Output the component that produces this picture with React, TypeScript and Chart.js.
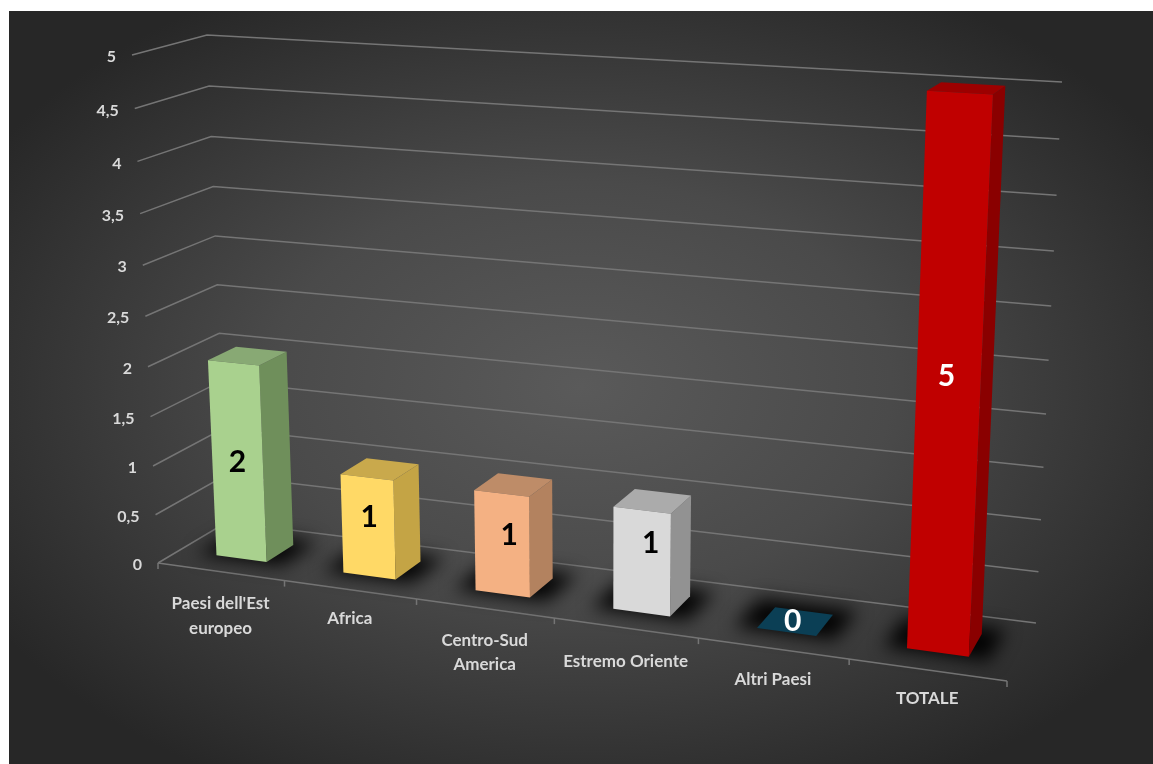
import React, { useEffect, useRef } from "react";
import { Chart, registerables } from "chart.js";

Chart.register(...registerables);

const categories: string[][] = [
  ["Paesi dell'Est", "europeo"],
  ["Africa"],
  ["Centro-Sud", "America"],
  ["Estremo Oriente"],
  ["Altri Paesi"],
  ["TOTALE"],
];
const values = [2, 1, 1, 1, 0, 5];
const valueTexts = ["2", "1", "1", "1", "0", "5"];
const frontColors = ["#A9D18E", "#FFD966", "#F4B183", "#D9D9D9", "#0B3F55", "#C00000"];
const sideColors = ["#6F8F5B", "#C4A445", "#B3825F", "#929292", "#0B3F55", "#8A0000"];
const topColors = ["#88A974", "#C9A94C", "#BE8C68", "#ABABAB", "#0B3F55", "#9C0000"];
const valueLabelColors = ["#000000", "#000000", "#000000", "#000000", "#FFFFFF", "#FFFFFF"];

const W = 1153;
const H = 764;
type P = [number, number];

// Perspective frame of the 3D box (front and back value planes)
const frontPlane: P[] = [[158, 563], [1007, 681], [1035, 104], [132, 55]];
const backPlane: P[] = [[227, 522], [1036, 623], [1062, 82], [207, 35]];
const depthNear = 0.31;
const depthFar = 0.71;
const labelNudge: P[] = [[0, 0], [1, -10], [7, -9], [9, -18], [-2, -1], [-2, -5]];
const categoryNudge = [2, -1, 2, 4, 1, -1];

function quadMap(q: P[]) {
  const [[x0, y0], [x1, y1], [x2, y2], [x3, y3]] = q;
  const sx = x0 - x1 + x2 - x3;
  const sy = y0 - y1 + y2 - y3;
  const dx1 = x1 - x2, dx2 = x3 - x2, dy1 = y1 - y2, dy2 = y3 - y2;
  const den = dx1 * dy2 - dx2 * dy1;
  const g = (sx * dy2 - dx2 * sy) / den;
  const h = (dx1 * sy - sx * dy1) / den;
  const a = x1 - x0 + g * x1, b = x3 - x0 + h * x3, c = x0;
  const d = y1 - y0 + g * y1, e = y3 - y0 + h * y3, f = y0;
  return (u: number, v: number): P => {
    const k = g * u + h * v + 1;
    return [(a * u + b * v + c) / k, (d * u + e * v + f) / k];
  };
}
const mapFront = quadMap(frontPlane);
const mapBack = quadMap(backPlane);
function project(u: number, v: number, w: number): P {
  const a = mapFront(u, v);
  const b = mapBack(u, v);
  return [a[0] + (b[0] - a[0]) * w, a[1] + (b[1] - a[1]) * w];
}

function poly(ctx: CanvasRenderingContext2D, pts: P[], fill: string) {
  ctx.beginPath();
  pts.forEach((p, i) => (i ? ctx.lineTo(p[0], p[1]) : ctx.moveTo(p[0], p[1])));
  ctx.closePath();
  ctx.fillStyle = fill;
  ctx.fill();
}
function line(ctx: CanvasRenderingContext2D, pts: P[]) {
  ctx.beginPath();
  pts.forEach((p, i) => (i ? ctx.lineTo(p[0], p[1]) : ctx.moveTo(p[0], p[1])));
  ctx.stroke();
}

const perspectivePlugin = {
  id: "perspective",
  beforeDatasetsDraw(chart: any) {
    const ctx: CanvasRenderingContext2D = chart.ctx;
    const { left, right, top, bottom } = chart.chartArea;
    const xs = chart.scales.x;
    const ys = chart.scales.y;
    const toV = (px: number) => (bottom - px) / (bottom - top);
    const toU = (px: number) => (px - left) / (right - left);

    ctx.save();
    // background
    ctx.fillStyle = "#ffffff";
    ctx.fillRect(0, 0, W, H);
    const cx = 581, cy = 387;
    ctx.save();
    ctx.beginPath();
    ctx.rect(9, 11, W - 9, H - 11);
    ctx.clip();
    ctx.translate(cx, cy);
    ctx.scale(1, 0.66);
    const g = ctx.createRadialGradient(0, 0, 0, 0, 0, 690);
    g.addColorStop(0, "#5A5A5A");
    g.addColorStop(0.45, "#4A4A4A");
    g.addColorStop(1, "#272727");
    ctx.fillStyle = g;
    ctx.fillRect(-cx, -cy / 0.66, W, H / 0.66);
    ctx.restore();

    // gridlines on side and back walls
    ctx.lineWidth = 1.5;
    ctx.strokeStyle = "#757575";
    ys.ticks.forEach((t: any) => {
      const v = toV(ys.getPixelForValue(t.value));
      line(ctx, [project(0, v, 0), project(0, v, 1), project(1, v, 1)]);
    });
    // category axis with tick marks
    line(ctx, [project(0, 0, 0), project(1, 0, 0)]);
    for (let i = 0; i <= categories.length; i++) {
      const p = project(i / categories.length, 0, 0);
      line(ctx, [p, [p[0], p[1] + 6]]);
    }

    // value tick labels
    ctx.font = "bold 16px Lato";
    ctx.fillStyle = "#D9D9D9";
    ctx.textAlign = "right";
    ctx.textBaseline = "middle";
    ys.ticks.forEach((t: any) => {
      const p = project(0, toV(ys.getPixelForValue(t.value)), 0);
      ctx.fillText(t.label, p[0] - 16, p[1] + 2);
    });

    // category labels
    ctx.font = "bold 17px Lato";
    ctx.textAlign = "center";
    categories.forEach((lines, i) => {
      const p = project(toU(xs.getPixelForValue(i)), 0, 0);
      lines.forEach((l, j) => ctx.fillText(l, p[0], p[1] + 30 + categoryNudge[i] + j * 24.5));
    });

    const bars = chart.getDatasetMeta(0).data;
    // floor shadows
    bars.forEach((el: any) => {
      const p = el.getProps(["x", "width"], true);
      const u0 = toU(p.x - p.width / 2) - 0.024;
      const u1 = toU(p.x + p.width / 2) + 0.022;
      ctx.save();
      ctx.filter = "blur(9px)";
      poly(ctx, [
        project(u0, 0, depthNear - 0.03),
        project(u1, 0, depthNear - 0.03),
        project(u1, 0, depthFar + 0.12),
        project(u0, 0, depthFar + 0.12),
      ], "rgba(0,0,0,0.95)");
      ctx.restore();
    });

    // bars
    bars.forEach((el: any, i: number) => {
      const p = el.getProps(["x", "y", "base", "width"], true);
      const u0 = toU(p.x - p.width / 2);
      const u1 = toU(p.x + p.width / 2);
      const v0 = toV(p.base);
      const v1 = toV(p.y);
      const n = depthNear, f = depthFar;
      poly(ctx, [project(u1, v0, n), project(u1, v0, f), project(u1, v1, f), project(u1, v1, n)], sideColors[i]);
      poly(ctx, [project(u0, v1, n), project(u1, v1, n), project(u1, v1, f), project(u0, v1, f)], topColors[i]);
      poly(ctx, [project(u0, v0, n), project(u1, v0, n), project(u1, v1, n), project(u0, v1, n)], frontColors[i]);
      const c = project((u0 + u1) / 2, (v0 + v1) / 2, values[i] === 0 ? 0.5 : n);
      ctx.font = "bold 30px Lato";
      ctx.textAlign = "center";
      ctx.textBaseline = "middle";
      ctx.fillStyle = valueLabelColors[i];
      ctx.fillText(valueTexts[i], c[0] + labelNudge[i][0], c[1] + labelNudge[i][1]);
    });
    ctx.restore();
  },
};

export default function App() {
  const ref = useRef<HTMLCanvasElement>(null);
  useEffect(() => {
    if (!ref.current) return;
    const chart = new Chart(ref.current, {
      type: "bar",
      data: {
        labels: categories,
        datasets: [
          {
            data: values,
            backgroundColor: "rgba(0,0,0,0)",
            borderWidth: 0,
            barPercentage: 0.4,
            categoryPercentage: 1,
          },
        ],
      },
      options: {
        responsive: false,
        animation: false,
        layout: { padding: 0 },
        plugins: { legend: { display: false }, tooltip: { enabled: false } },
        scales: {
          x: { grid: { display: false }, border: { display: false }, ticks: { display: false } },
          y: {
            min: 0,
            max: 5,
            grid: { display: false },
            border: { display: false },
            ticks: {
              display: false,
              stepSize: 0.5,
              callback: (v: any) => String(v).replace(".", ","),
            },
          },
        },
      },
      plugins: [perspectivePlugin],
    } as any);
    return () => chart.destroy();
  }, []);
  return (
    <canvas
      ref={ref}
      width={W}
      height={H}
      style={{ position: "absolute", left: 0, top: 0, display: "block" }}
    />
  );
}
